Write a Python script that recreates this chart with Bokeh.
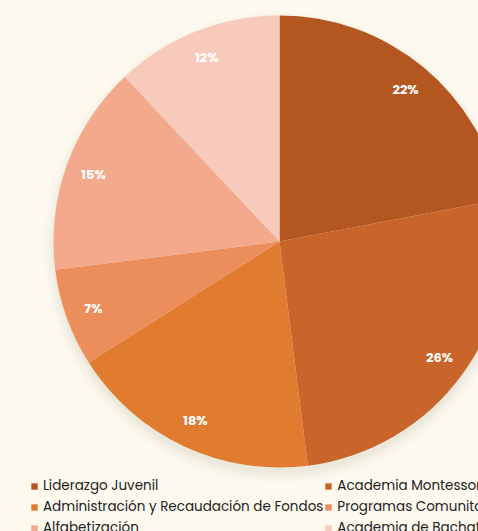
import numpy as np
from bokeh.plotting import figure
from bokeh.models import ColumnDataSource, Legend, LegendItem
from bokeh.core.properties import value
from bokeh.embed import file_html
from bokeh.resources import INLINE

categories = ["Liderazgo Juvenil", "Academia Montessori", "Administración y Recaudación de Fondos",
              "Programas Comunitarios", "Alfabetización", "Academia de Bachata"]
values = [22, 26, 18, 7, 15, 12]
colors = ["#b4561f", "#c9652a", "#e07b30", "#ec8e5c", "#f3aa8c", "#f7cabb"]

W, H = 478, 531
cx, cy, R = 279, H - 241, 226

vals = np.array(values, dtype=float)
frac = vals / vals.sum()
ends = np.pi / 2 - np.cumsum(frac) * 2 * np.pi
starts = np.concatenate([[np.pi / 2], ends[:-1]])
mids = (starts + ends) / 2
lr = R * 0.875

src = ColumnDataSource(dict(cat=categories, val=values, color=colors,
                            start=ends, end=starts,
                            lx=cx + lr * np.cos(mids), ly=cy + lr * np.sin(mids),
                            label=[f"{v}%" for v in values]))

p = figure(width=W, height=H, x_range=(0, W), y_range=(0, H), output_backend="svg",
           toolbar_location=None, min_border=0, background_fill_color="#fdf9ef",
           border_fill_color="#fdf9ef", outline_line_color=None)
p.axis.visible = False
p.grid.visible = False

# soft shadow (mostly below the pie)
for i, a in enumerate([0.035, 0.03, 0.025, 0.02, 0.015]):
    p.circle(x=[cx], y=[cy - 6], radius=R + i * 2.5, fill_color="#7a7060", fill_alpha=a, line_color=None)

w = p.wedge(x=cx, y=cy, radius=R, start_angle="start", end_angle="end", direction="anticlock",
            fill_color="color", line_color=None, source=src)

p.text(x="lx", y="ly", text="label", source=src, text_color="white", text_font=value("Poppins"),
       text_font_style="bold", text_font_size="13px", text_align="center", text_baseline="middle")

items = [LegendItem(label=c, renderers=[w], index=i) for i, c in enumerate(categories)]
legend = Legend(items=items, ncols=2, orientation="horizontal", location=(30, -7),
                label_text_font="Poppins", label_text_font_size="13.5px",
                label_text_line_height=1.0,
                label_text_color="#222222", glyph_width=8, glyph_height=8,
                label_standoff=5, spacing=1, padding=0, margin=0, label_height=15,
                background_fill_alpha=0, border_line_color=None)
p.add_layout(legend)

open("out.html", "w").write(file_html(p, INLINE))
